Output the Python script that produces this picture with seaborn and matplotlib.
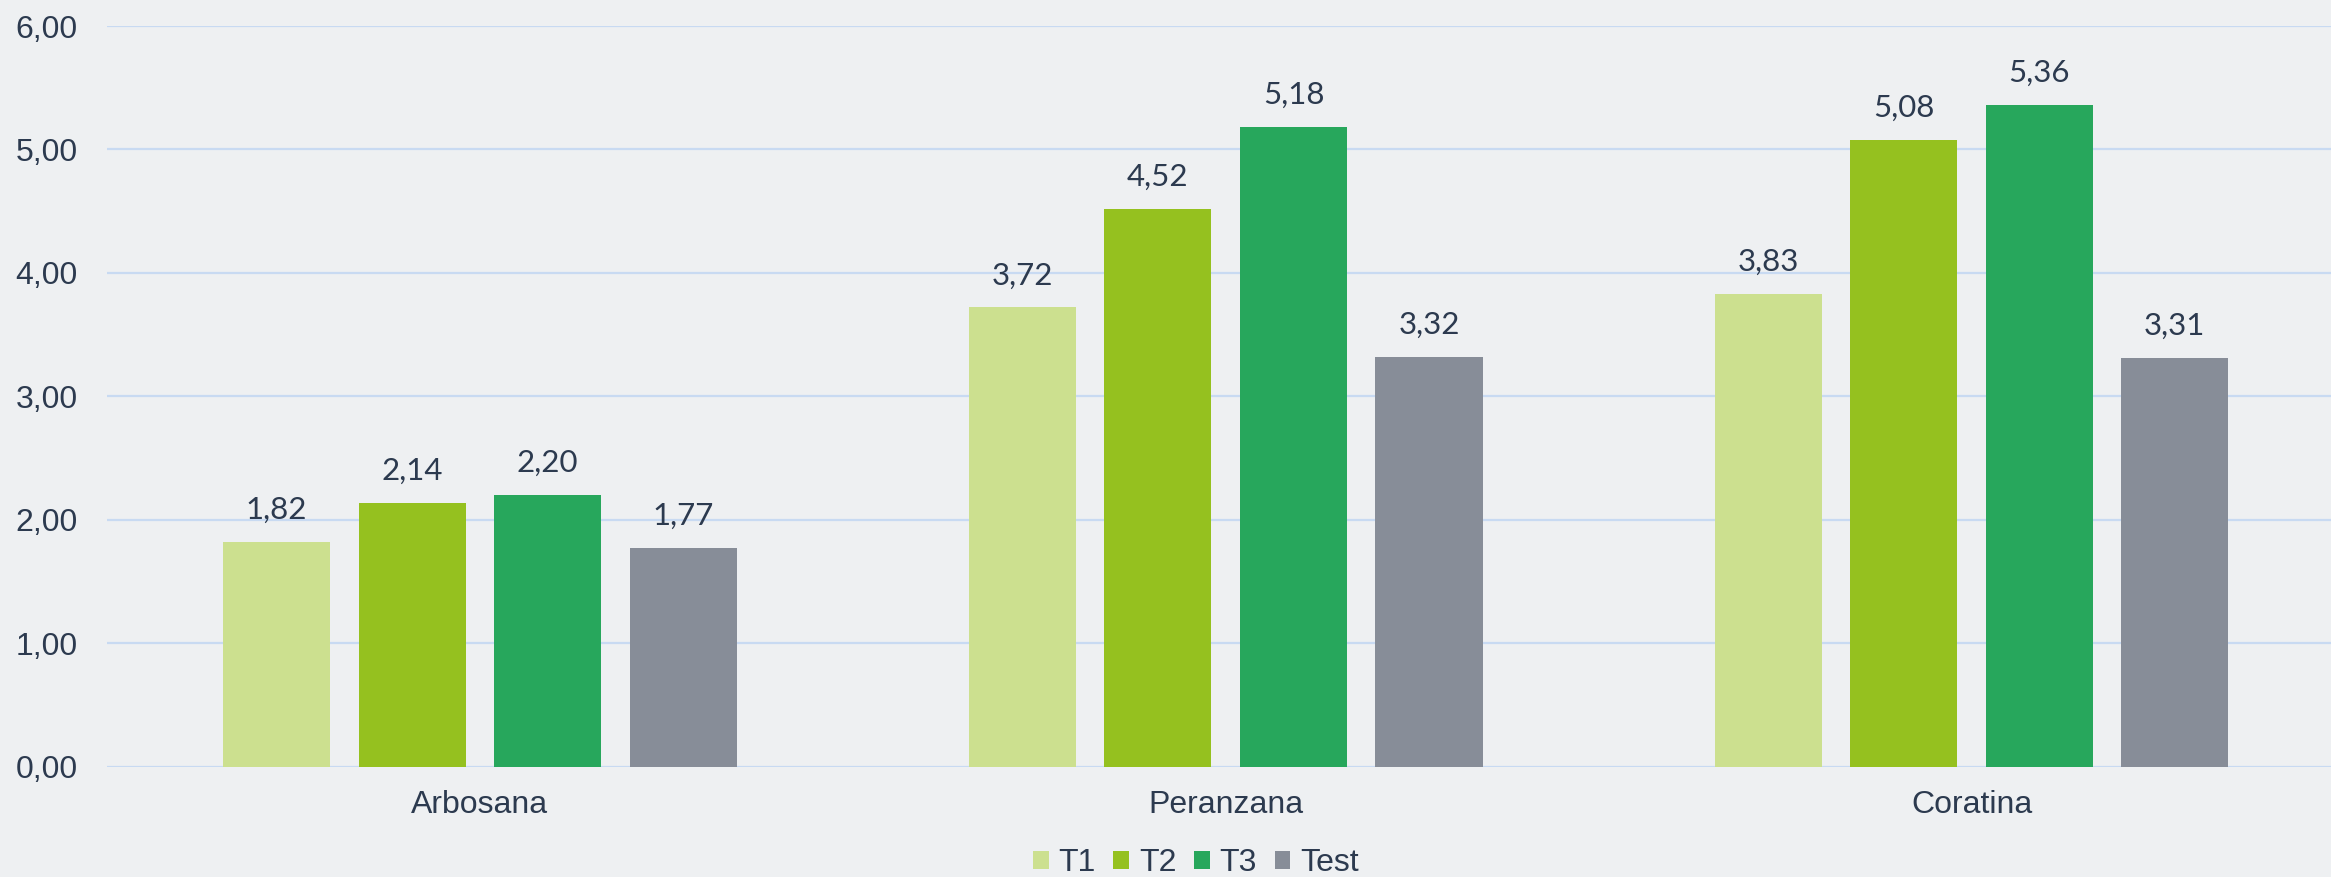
import pandas as pd
import seaborn as sns
import matplotlib.pyplot as plt
from matplotlib.ticker import FuncFormatter

# Chart data
varieties = ["Arbosana", "Peranzana", "Coratina"]
treatments = ["T1", "T2", "T3", "Test"]
t1 = [1.82, 3.72, 3.83]
t2 = [2.14, 4.52, 5.08]
t3 = [2.20, 5.18, 5.36]
test = [1.77, 3.32, 3.31]
y_ticks = [0, 1, 2, 3, 4, 5, 6]

colors = ["#cce08f", "#95c11f", "#27a75c", "#878d98"]
bg = "#eef0f2"
text_color = "#2c3a4f"
grid_color = "#c8daf2"

df = pd.DataFrame({"variety": varieties * 4,
                   "treatment": [t for t in treatments for _ in varieties],
                   "value": t1 + t2 + t3 + test})

sns.set_style("white")
plt.rcParams["font.family"] = ["Liberation Sans", "DejaVu Sans"]

fig = plt.figure(figsize=(23.31, 8.77), dpi=100, facecolor=bg)
ax = fig.add_axes([107 / 2331, 1 - 766.7 / 877, 1 - 107 / 2331, (766.7 - 26) / 877])
ax.set_facecolor(bg)

sns.barplot(data=df, x="variety", y="value", hue="treatment", palette=colors,
            saturation=1, width=0.727, gap=0.21, linewidth=0, ax=ax)

# Data labels with comma decimals
for cont in ax.containers:
    ax.bar_label(cont, labels=[f"{v:.2f}".replace(".", ",") for v in cont.datavalues],
                 padding=13, fontsize=22.5, color=text_color, family=["Lato", "DejaVu Sans"])

ax.set_ylim(0, 6)
ax.set_xlim(-0.5, 2.482)
ax.set_yticks(y_ticks)
ax.yaxis.set_major_formatter(FuncFormatter(lambda v, p: f"{v:.2f}".replace(".", ",")))
ax.grid(axis="y", color=grid_color, linewidth=1.6)
ax.set_axisbelow(True)
for s in ax.spines.values():
    s.set_visible(False)
ax.tick_params(axis="y", length=0, pad=21, labelsize=23, labelcolor=text_color)
ax.tick_params(axis="x", length=0, pad=17, labelsize=23, labelcolor=text_color)
ax.set_xlabel("")
ax.set_ylabel("")

handles, labels = ax.get_legend_handles_labels()
ax.get_legend().remove()
fig.legend(handles, labels, loc="center", bbox_to_anchor=(0.513, 1 - 863 / 877),
           ncol=4, frameon=False, fontsize=23, labelcolor=text_color,
           handlelength=0.5, handleheight=0.5, handletextpad=0.3, columnspacing=0.55)

fig.savefig("out.png", dpi=100, facecolor=bg)
